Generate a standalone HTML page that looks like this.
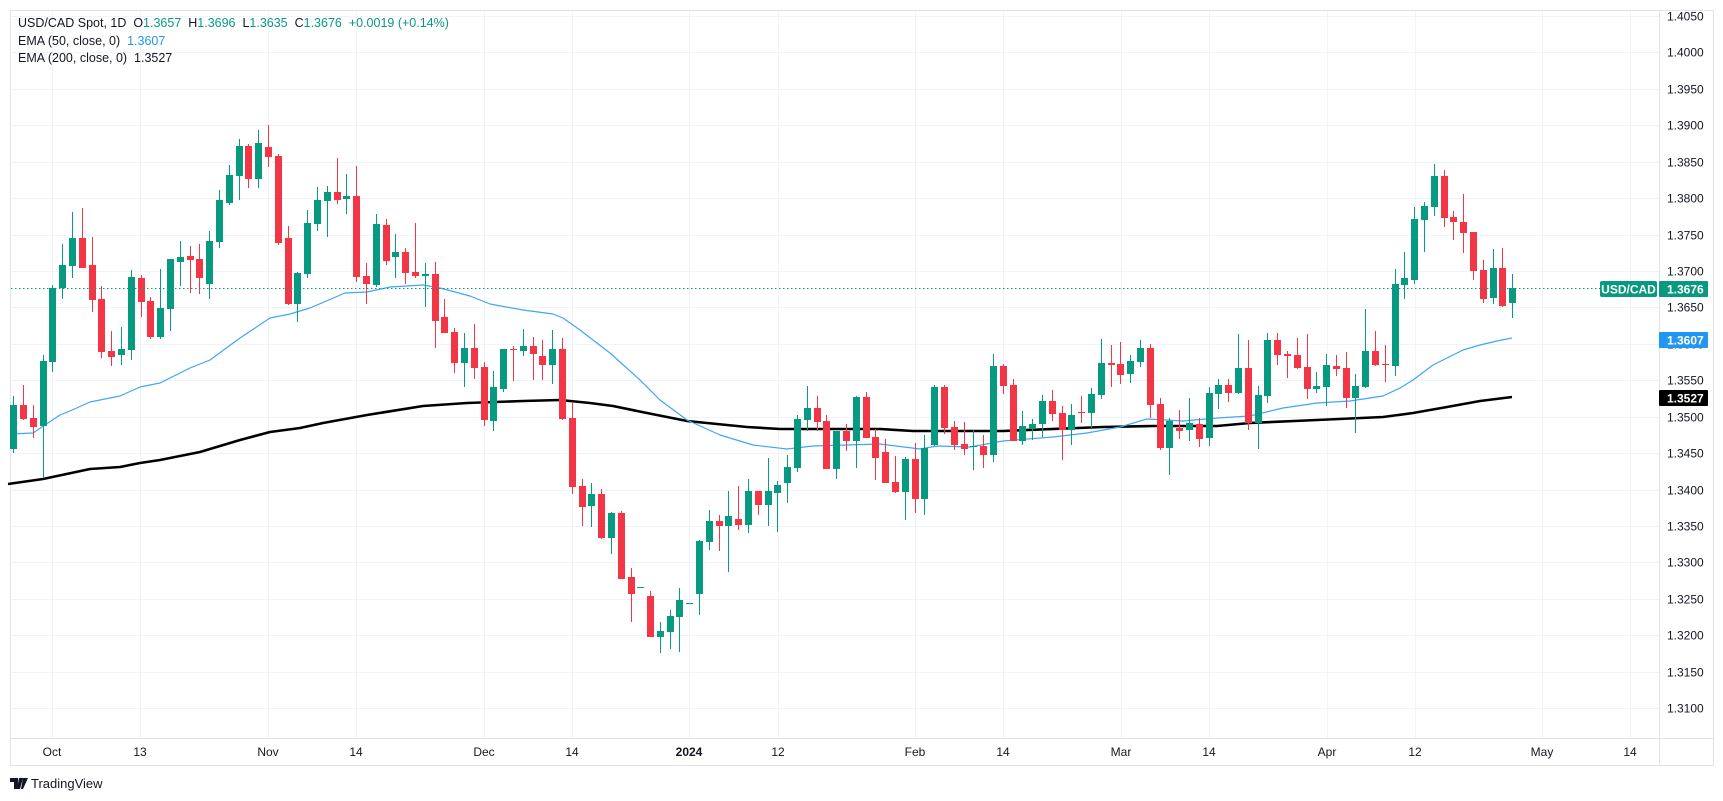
<!DOCTYPE html>
<html><head><meta charset="utf-8">
<style>
html,body{margin:0;padding:0;background:#fff;}
body{width:1723px;height:801px;overflow:hidden;position:relative;font-family:"Liberation Sans",Arial,sans-serif;}
.hdr{position:absolute;left:18px;font-size:12.5px;color:#131722;white-space:pre;}
.g{color:#089981}
</style></head><body>
<svg id="c" width="1723" height="801" style="position:absolute;left:0;top:0" xmlns="http://www.w3.org/2000/svg"></svg>
<div class="hdr" style="top:16px">USD/CAD Spot, 1D  O<span class="g">1.3657</span>  H<span class="g">1.3696</span>  L<span class="g">1.3635</span>  C<span class="g">1.3676</span>  <span class="g">+0.0019 (+0.14%)</span></div>
<div class="hdr" style="top:34px">EMA (50, close, 0)  <span style="color:#2196f3">1.3607</span></div>
<div class="hdr" style="top:51px">EMA (200, close, 0)  1.3527</div>
<script>
var s='';
function Y(p){return 161.7+(1.3850-p)/0.005*36.43;}
s+='<rect x="10.5" y="10.5" width="1703" height="755" fill="none" stroke="#e0e3eb"/>';
s+='<line x1="1659.5" y1="10" x2="1659.5" y2="765" stroke="#e0e3eb"/>';
s+='<line x1="10" y1="738.5" x2="1713" y2="738.5" stroke="#e0e3eb"/>';
for(var i=0;i<=19;i++){var p=1.4050-i*0.005;var y=Math.round(Y(p))+0.5;
 s+='<line x1="11" y1="'+y+'" x2="1659" y2="'+y+'" stroke="#f0f3fa"/>';
 s+='<text x="1667" y="'+(y+4)+'" font-size="12" fill="#131722" font-family="Liberation Sans,sans-serif">'+p.toFixed(4)+'</text>';}
var xs=[[52,'Oct'],[140,'13'],[268,'Nov'],[356,'14'],[484,'Dec'],[572,'14'],[689,'2024'],[778,'12'],[915,'Feb'],[1003,'14'],[1121,'Mar'],[1209,'14'],[1327,'Apr'],[1415,'12'],[1542,'May'],[1630,'14']];
xs.forEach(function(a){var x=a[0]+0.5;s+='<line x1="'+x+'" y1="11" x2="'+x+'" y2="738" stroke="#f0f3fa"/>';
 s+='<text x="'+a[0]+'" y="756" text-anchor="middle" font-size="12" fill="#131722" '+(a[1]=='2024'?'font-weight="bold"':'')+' font-family="Liberation Sans,sans-serif">'+a[1]+'</text>';});
var b=[[11,434],[33,433],[42,427],[60,415],[70,411],[90,402],[120,396],[140,387],[160,383],[190,368],[210,360],[240,338],[270,318],[290,314],[310,308],[345,293],[367,292],[390,287],[423,285],[440,288],[470,296],[490,304],[523,310],[553,314],[563,318],[580,330],[610,353],[640,380],[660,400],[687,420],[720,435],[753,445],[787,449],[813,446],[847,445],[880,444],[920,449],[937,446],[970,447],[1003,441],[1053,437],[1087,433],[1120,427],[1147,419],[1183,421],[1217,418],[1250,416],[1283,408],[1317,403],[1350,401],[1383,396],[1400,388],[1413,380],[1433,365],[1463,350],[1480,345],[1497,341],[1512,338]];
var k=[[8,484],[43,479],[90,469],[120,467],[140,463],[160,460],[200,452],[240,440],[270,432],[300,428],[323,423],[367,415],[423,406],[467,403],[523,401],[560,400],[590,403],[613,406],[647,413],[687,421],[747,427],[780,429],[880,429],[913,431],[1003,431],[1103,427],[1153,426],[1217,426],[1250,423],[1317,420],[1383,417],[1413,413],[1447,407],[1480,401],[1512,397]];
function pl(a){return a.map(function(q){return q[0]+','+q[1]}).join(' ');}
s+='<polyline points="'+pl(k)+'" fill="none" stroke="#000" stroke-width="2.6" stroke-linejoin="round"/>';
s+='<polyline points="'+pl(b)+'" fill="none" stroke="#42a5f5" stroke-width="1.2" stroke-linejoin="round"/>';
var d=[[449,396,453,405],[405,385,420,419],[418,405,438,427],[426,355,478,361],[362,285,372,288],[288,244,299,265],[266,212,278,238],[238,208,268,268],[265,237,312,300],[299,286,358,352],
[351,331,366,357],[355,327,365,349],[350,270,360,277],[278,275,317,302],[301,297,339,337],[337,269,339,308],[309,259,331,259],[262,241,286,257],[256,246,293,260],[259,244,294,278],
[284,231,299,241],[242,190,248,200],[203,165,205,175],[176,139,200,146],[146,144,188,179],[179,130,188,143],[147,125,167,157],[156,154,245,243],[238,226,305,304],[304,272,322,273],
[274,210,278,223],[224,187,231,200],[201,186,237,192],[192,158,204,200],[199,174,214,196],[196,166,282,277],[276,263,304,284],[285,214,287,224],[225,219,265,261],[257,234,278,252],
[252,248,284,273],[272,223,278,276],[276,263,307,274],[274,262,348,321],[317,299,333,333],[332,328,373,363],[363,333,387,348],[348,324,379,368],[367,362,426,420],[421,371,431,387],
[389,349,392,349],[349,346,381,350],[351,329,356,346],[346,337,380,354],[356,340,380,365],[365,330,384,349],[349,338,420,419],[418,403,494,487],[486,479,526,507],[506,483,527,494],
[494,489,539,538],[538,512,554,513],[513,511,579,579],[577,568,622,594],[587,587,587,587],[596,591,637,637],[637,622,653,631],[632,610,649,616],[617,588,652,600],[603,603,603,603],
[594,540,615,541],[542,510,550,521],[521,515,551,526],[526,491,572,516],[519,486,530,525],[525,479,533,491],[491,491,515,505],[505,458,526,491],[493,481,532,485],[483,455,503,467],
[468,415,472,419],[420,386,431,408],[408,396,431,422],[421,415,469,469],[469,431,479,431],[431,424,451,441],[441,396,468,397],[397,392,438,438],[437,429,480,458],[452,439,483,483],
[482,456,493,492],[492,457,520,459],[459,443,513,499],[499,435,515,448],[445,385,446,387],[387,385,434,428],[427,421,450,445],[444,422,455,449],[447,430,470,446],[446,435,468,455],
[455,354,462,366],[366,364,394,386],[385,379,441,441],[441,411,445,426],[429,419,440,424],[424,395,437,401],[401,390,421,414],[413,406,460,430],[430,404,445,415],[412,396,423,413],
[413,388,428,394],[395,339,399,363],[363,345,387,365],[364,342,384,375],[374,355,383,361],[362,340,367,348],[348,344,418,405],[404,398,450,448],[448,418,475,421],[428,410,439,431],
[430,398,441,423],[424,418,447,439],[438,387,446,393],[394,379,409,385],[385,379,402,393],[393,334,394,368],[368,340,430,423],[423,386,449,395],[396,333,403,340],[340,333,365,355],
[354,351,378,356],[355,338,369,368],[367,334,399,389],[389,372,393,386],[387,354,406,365],[366,355,376,369],[368,352,408,398],[398,374,433,386],[387,309,388,351],[351,331,366,365],
[364,345,382,365],[366,269,376,284],[285,252,299,278],[280,207,284,219],[220,202,252,206],[207,164,216,176],[176,170,227,218],[217,211,240,222],[222,194,253,233],[232,232,280,271],
[270,260,303,299],[298,249,304,268],[268,248,307,306],[303,274,318,288]];
for(var i=0;i<d.length;i++){var c=d[i],x=Math.round(13.3+i*9.797);
 var up=c[3]<c[0]; var col=up?'#089981':'#f23645';
 if(i==64||i==69) col='#089981';
 s+='<rect x="'+x+'" y="'+c[1]+'" width="1" height="'+Math.max(1,c[2]-c[1])+'" fill="'+col+'"/>';
 var t=Math.min(c[0],c[3]),h=Math.max(1,Math.abs(c[0]-c[3]));
 s+='<rect x="'+(x-3)+'" y="'+t+'" width="7" height="'+h+'" fill="'+col+'"/>';}
s+='<line x1="11" y1="288.5" x2="1600" y2="288.5" stroke="#089981" stroke-dasharray="1.5,2.5" stroke-width="1"/>';
s+='<rect x="1600" y="281" width="57" height="16" rx="2" fill="#089981"/><text x="1628.5" y="293.5" text-anchor="middle" font-size="12" font-weight="bold" fill="#fff" font-family="Liberation Sans,sans-serif">USD/CAD</text>';
s+='<rect x="1659" y="281" width="49" height="16" rx="1" fill="#089981"/><text x="1667" y="293.5" font-size="12" font-weight="bold" fill="#fff" font-family="Liberation Sans,sans-serif">1.3676</text>';
s+='<rect x="1659" y="332" width="49" height="16" rx="1" fill="#2196f3"/><text x="1667" y="344.5" font-size="12" font-weight="bold" fill="#fff" font-family="Liberation Sans,sans-serif">1.3607</text>';
s+='<rect x="1659" y="390" width="49" height="16" rx="1" fill="#000"/><text x="1667" y="402.5" font-size="12" font-weight="bold" fill="#fff" font-family="Liberation Sans,sans-serif">1.3527</text>';
s+='<path d="M10 778h8v11h-4v-7h-4z M19 778h4l-3 11h-3z M23 778h5l-5 11h-2z" fill="#131722"/>';
s+='<text x="31" y="788" font-size="13" fill="#131722" font-family="Liberation Sans,sans-serif">TradingView</text>';
document.getElementById('c').innerHTML=s;
</script>
</body></html>
